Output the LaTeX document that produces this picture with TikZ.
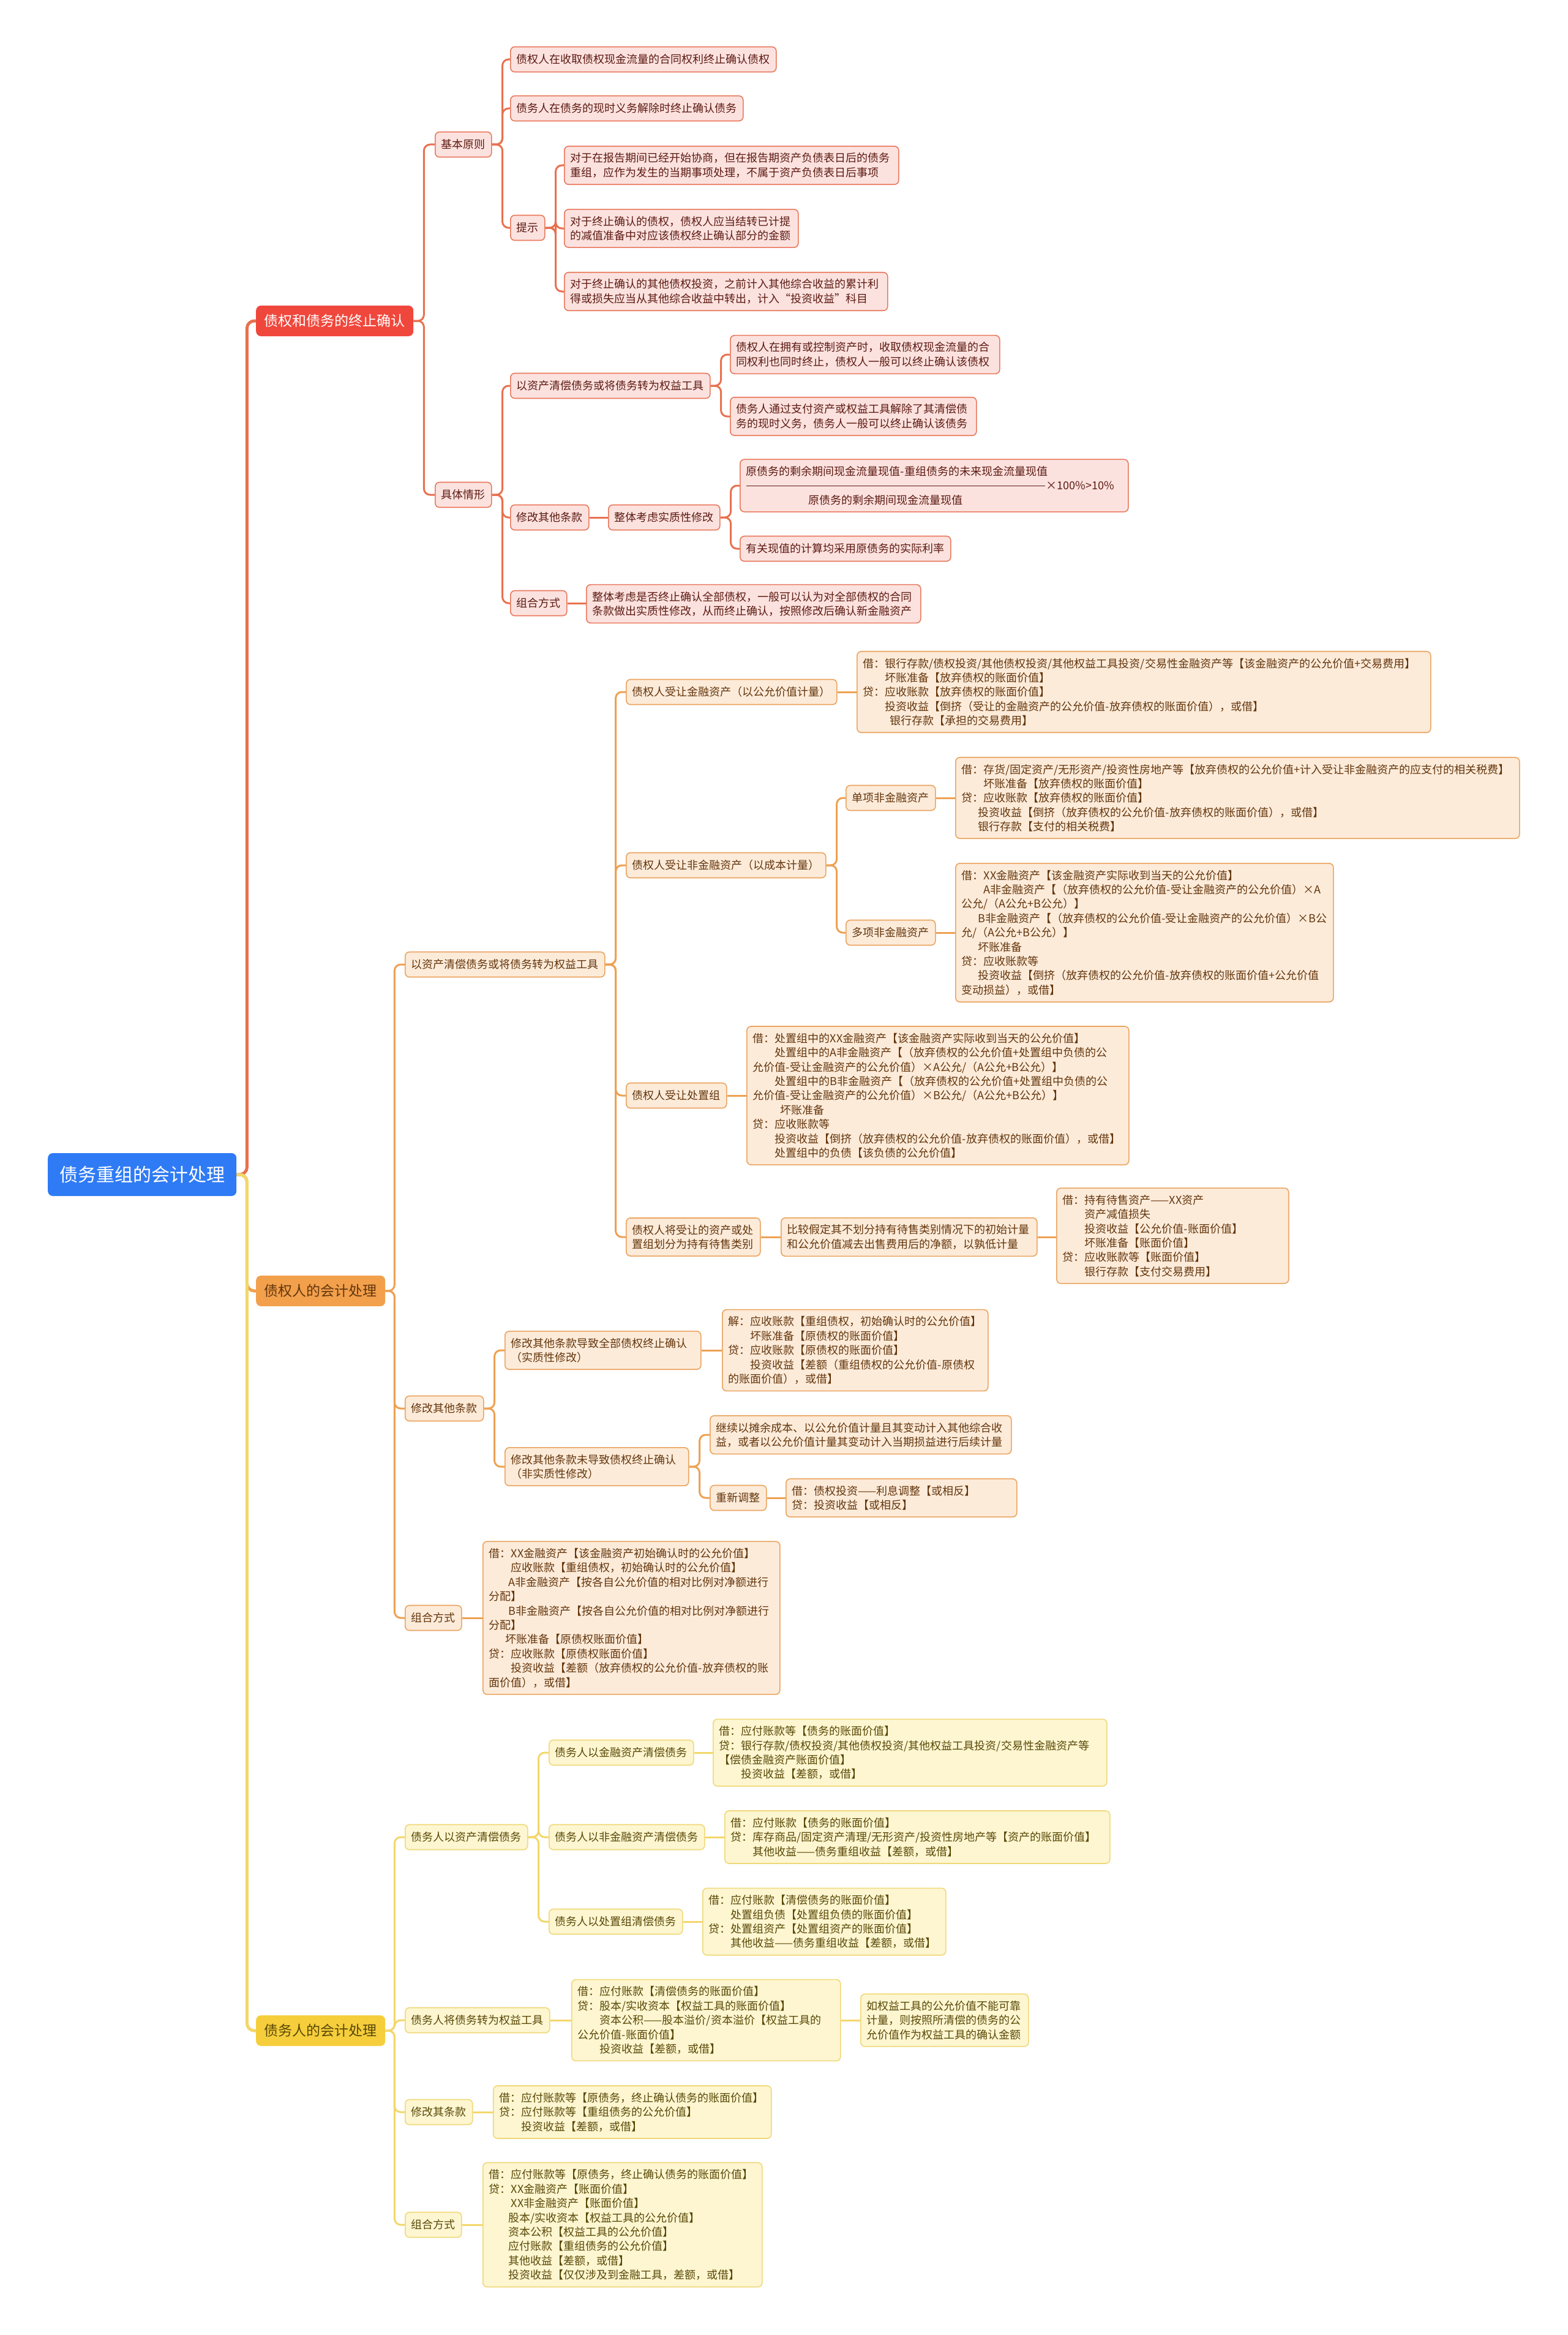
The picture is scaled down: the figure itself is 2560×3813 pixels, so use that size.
\documentclass[tikz,border=0pt]{standalone}
\usepackage{fontspec}
\setmainfont{Noto Sans CJK SC}
\usetikzlibrary{backgrounds}
\definecolor{rootfill}{HTML}{2F7BF5}
\definecolor{rmain}{HTML}{F0473C}
\definecolor{rfill}{HTML}{FCE2DF}
\definecolor{rdraw}{HTML}{E9795D}
\definecolor{rtext}{HTML}{5C1A12}
\definecolor{rline}{HTML}{E8714F}
\definecolor{omain}{HTML}{F2A04C}
\definecolor{ofill}{HTML}{FDEBDA}
\definecolor{odraw}{HTML}{EAA45E}
\definecolor{otext}{HTML}{63360C}
\definecolor{oline}{HTML}{EEA152}
\definecolor{ymain}{HTML}{F6CE3C}
\definecolor{yfill}{HTML}{FDF6D1}
\definecolor{ydraw}{HTML}{F0D878}
\definecolor{ytext}{HTML}{594806}
\definecolor{yline}{HTML}{F3D76A}
\newcommand{\IndA}{\hspace*{2em}}
\newcommand{\IndB}{\hspace*{1.5em}}
\newcommand{\IndC}{\hspace*{2.5em}}
\newcommand{\IndD}{\hspace*{1.75em}}
\tikzset{
  basebox/.style={rounded corners=7pt, line width=1.6pt, inner xsep=10pt, inner ysep=11pt,
    minimum height=41pt, anchor=west, font=\fontsize{18}{23.4}\selectfont, align=left},
  rbox/.style={basebox, fill=rfill, draw=rdraw, text=rtext},
  obox/.style={basebox, fill=ofill, draw=odraw, text=otext},
  ybox/.style={basebox, fill=yfill, draw=ydraw, text=ytext},
  topbox/.style={rounded corners=8pt, inner xsep=13.5pt, minimum height=50pt, anchor=west,
    font=\fontsize{23}{28}\selectfont},
  rootbox/.style={rounded corners=8pt, fill=rootfill, text=white, inner xsep=19pt,
    minimum height=70pt, anchor=west, font=\fontsize{30}{36}\selectfont},
  rc/.style={draw=rline, line width=3pt, rounded corners=10pt},
  oc/.style={draw=oline, line width=3pt, rounded corners=10pt},
  yc/.style={draw=yline, line width=3pt, rounded corners=10pt},
  mainc/.style={line width=5pt, rounded corners=12pt}
}
\begin{document}
\begin{tikzpicture}[x=1pt,y=-1pt]
\useasboundingbox (0,0) rectangle (2560,3813);
% ---------- root and level 1
\node[rootbox] (root) at (78,1918) {债务重组的会计处理};
\node[topbox, fill=rmain, text=white] (r1) at (418,524) {债权和债务的终止确认};
\node[topbox, fill=omain, text=otext] (o1) at (418,2108) {债权人的会计处理};
\node[topbox, fill=ymain, text=ytext] (y1) at (418,3316) {债务人的会计处理};
% ---------- red section
\node[rbox] (r2a) at (710,236) {基本原则};
\node[rbox] (r3a) at (833,97) {债权人在收取债权现金流量的合同权利终止确认债权};
\node[rbox] (r3b) at (833,177) {债务人在债务的现时义务解除时终止确认债务};
\node[rbox] (r3c) at (833,372) {提示};
\node[rbox, text width=526pt] (r4a) at (921,270) {对于在报告期间已经开始协商，但在报告期资产负债表日后的债务\\重组，应作为发生的当期事项处理，不属于资产负债表日后事项};
\node[rbox, text width=362pt] (r4b) at (921,373) {对于终止确认的债权，债权人应当结转已计提\\的减值准备中对应该债权终止确认部分的金额};
\node[rbox, text width=508pt] (r4c) at (921,476) {对于终止确认的其他债权投资，之前计入其他综合收益的累计利\\得或损失应当从其他综合收益中转出，计入“投资收益”科目};
\node[rbox] (r2b) at (710,808) {具体情形};
\node[rbox] (r3d) at (833,630) {以资产清偿债务或将债务转为权益工具};
\node[rbox, text width=420pt] (r4d) at (1192,579) {债权人在拥有或控制资产时，收取债权现金流量的合\\同权利也同时终止，债权人一般可以终止确认该债权};
\node[rbox, text width=382pt] (r4e) at (1192,680) {债务人通过支付资产或权益工具解除了其清偿债\\务的现时义务，债务人一般可以终止确认该债务};
\node[rbox] (r3e) at (833,845) {修改其他条款};
\node[rbox] (r4f) at (993,845) {整体考虑实质性修改};
\node[rbox, text width=614pt] (r5a) at (1208,793) {原债务的剩余期间现金流量现值-重组债务的未来现金流量现值\\\rule[0.3em]{488pt}{1.2pt}\hspace{2pt}×100\%>10\%\\\hspace*{102pt}原债务的剩余期间现金流量现值};
\node[rbox] (r4g) at (1208,896) {有关现值的计算均采用原债务的实际利率};
\node[rbox] (r3f) at (833,985) {组合方式};
\node[rbox, text width=526pt] (r4h) at (957,986) {整体考虑是否终止确认全部债权，一般可以认为对全部债权的合同\\条款做出实质性修改，从而终止确认，按照修改后确认新金融资产};
% ---------- orange section
\node[obox] (o2a) at (661,1575) {以资产清偿债务或将债务转为权益工具};
\node[obox] (o3a) at (1022,1130) {债权人受让金融资产（以公允价值计量）};
\node[obox, text width=917pt] (o4a) at (1399,1130) {借：银行存款/债权投资/其他债权投资/其他权益工具投资/交易性金融资产等【该金融资产的公允价值+交易费用】\\\IndA{}坏账准备【放弃债权的账面价值】\\贷：应收账款【放弃债权的账面价值】\\\IndA{}投资收益【倒挤（受让的金融资产的公允价值-放弃债权的账面价值），或借】\\\hspace*{2.4em}银行存款【承担的交易费用】};
\node[obox] (o3b) at (1022,1413) {债权人受让非金融资产（以成本计量）};
\node[obox] (o4b) at (1381,1303) {单项非金融资产};
\node[obox, text width=901pt] (o5b) at (1560,1303) {借：存货/固定资产/无形资产/投资性房地产等【放弃债权的公允价值+计入受让非金融资产的应支付的相关税费】\\\IndA{}坏账准备【放弃债权的账面价值】\\贷：应收账款【放弃债权的账面价值】\\\IndB{}投资收益【倒挤（放弃债权的公允价值-放弃债权的账面价值），或借】\\\IndB{}银行存款【支付的相关税费】};
\node[obox] (o4c) at (1381,1523) {多项非金融资产};
\node[obox, text width=597pt] (o5c) at (1560,1523) {借：XX金融资产【该金融资产实际收到当天的公允价值】\\\IndA{}A非金融资产【（放弃债权的公允价值-受让金融资产的公允价值）×A\\公允/（A公允+B公允）】\\\IndB{}B非金融资产【（放弃债权的公允价值-受让金融资产的公允价值）×B公\\允/（A公允+B公允）】\\\IndB{}坏账准备\\贷：应收账款等\\\IndB{}投资收益【倒挤（放弃债权的公允价值-放弃债权的账面价值+公允价值\\变动损益），或借】};
\node[obox] (o3c) at (1022,1789) {债权人受让处置组};
\node[obox, text width=604pt] (o4d) at (1219,1789) {借：处置组中的XX金融资产【该金融资产实际收到当天的公允价值】\\\IndA{}处置组中的A非金融资产【（放弃债权的公允价值+处置组中负债的公\\允价值-受让金融资产的公允价值）×A公允/（A公允+B公允）】\\\IndA{}处置组中的B非金融资产【（放弃债权的公允价值+处置组中负债的公\\允价值-受让金融资产的公允价值）×B公允/（A公允+B公允）】\\\IndC{}坏账准备\\贷：应收账款等\\\IndA{}投资收益【倒挤（放弃债权的公允价值-放弃债权的账面价值），或借】\\\IndA{}处置组中的负债【该负债的公允价值】};
\node[obox, text width=199pt] (o3d) at (1022,2020) {债权人将受让的资产或处\\置组划分为持有待售类别};
\node[obox, text width=398pt] (o4e) at (1275,2020) {比较假定其不划分持有待售类别情况下的初始计量\\和公允价值减去出售费用后的净额，以孰低计量};
\node[obox, text width=359pt] (o5e) at (1725,2018) {借：持有待售资产——XX资产\\\IndA{}资产减值损失\\\IndA{}投资收益【公允价值-账面价值】\\\IndA{}坏账准备【账面价值】\\贷：应收账款等【账面价值】\\\IndA{}银行存款【支付交易费用】};
\node[obox] (o2b) at (661,2300) {修改其他条款};
\node[obox, text width=300pt] (o3e) at (824,2205) {修改其他条款导致全部债权终止确认\\（实质性修改）};
\node[obox, text width=414pt] (o4f) at (1179,2205) {解：应收账款【重组债权，初始确认时的公允价值】\\\IndA{}坏账准备【原债权的账面价值】\\贷：应收账款【原债权的账面价值】\\\IndA{}投资收益【差额（重组债权的公允价值-原债权\\的账面价值），或借】};
\node[obox, text width=280pt] (o3f) at (824,2395) {修改其他条款未导致债权终止确认\\（非实质性修改）};
\node[obox, text width=472pt] (o4g) at (1159,2343) {继续以摊余成本、以公允价值计量且其变动计入其他综合收\\益，或者以公允价值计量其变动计入当期损益进行后续计量};
\node[obox] (o4h) at (1159,2446) {重新调整};
\node[obox, text width=357pt] (o5h) at (1283,2446) {借：债权投资——利息调整【或相反】\\贷：投资收益【或相反】};
\node[obox] (o2c) at (661,2642) {组合方式};
\node[obox, text width=465pt] (o3g) at (788,2642) {借：XX金融资产【该金融资产初始确认时的公允价值】\\\IndA{}应收账款【重组债权，初始确认时的公允价值】\\\IndD{}A非金融资产【按各自公允价值的相对比例对净额进行\\分配】\\\IndD{}B非金融资产【按各自公允价值的相对比例对净额进行\\分配】\\\IndB{}坏账准备【原债权账面价值】\\贷：应收账款【原债权账面价值】\\\IndA{}投资收益【差额（放弃债权的公允价值-放弃债权的账\\面价值），或借】};
% ---------- yellow section
\node[ybox] (y2a) at (661,3000) {债务人以资产清偿债务};
\node[ybox] (y3a) at (896,2862) {债务人以金融资产清偿债务};
\node[ybox, text width=623pt] (y4a) at (1164,2862) {借：应付账款等【债务的账面价值】\\贷：银行存款/债权投资/其他债权投资/其他权益工具投资/交易性金融资产等\\【偿债金融资产账面价值】\\\IndA{}投资收益【差额，或借】};
\node[ybox] (y3b) at (896,3000) {债务人以非金融资产清偿债务};
\node[ybox, text width=609pt] (y4b) at (1183,3000) {借：应付账款【债务的账面价值】\\贷：库存商品/固定资产清理/无形资产/投资性房地产等【资产的账面价值】\\\IndA{}其他收益——债务重组收益【差额，或借】};
\node[ybox] (y3c) at (896,3138) {债务人以处置组清偿债务};
\node[ybox, text width=377pt] (y4c) at (1147,3138) {借：应付账款【清偿债务的账面价值】\\\IndA{}处置组负债【处置组负债的账面价值】\\贷：处置组资产【处置组资产的账面价值】\\\IndA{}其他收益——债务重组收益【差额，或借】};
\node[ybox] (y2b) at (661,3299) {债务人将债务转为权益工具};
\node[ybox, text width=419pt] (y3d) at (933,3299) {借：应付账款【清偿债务的账面价值】\\贷：股本/实收资本【权益工具的账面价值】\\\IndA{}资本公积——股本溢价/资本溢价【权益工具的\\公允价值-账面价值】\\\IndA{}投资收益【差额，或借】};
\node[ybox, text width=254pt] (y4d) at (1405,3299) {如权益工具的公允价值不能可靠\\计量，则按照所清偿的债务的公\\允价值作为权益工具的确认金额};
\node[ybox] (y2c) at (661,3449) {修改其条款};
\node[ybox, text width=434pt] (y3e) at (805,3449) {借：应付账款等【原债务，终止确认债务的账面价值】\\贷：应付账款等【重组债务的公允价值】\\\IndA{}投资收益【差额，或借】};
\node[ybox] (y2d) at (661,3633) {组合方式};
\node[ybox, text width=436pt] (y3f) at (788,3633) {借：应付账款等【原债务，终止确认债务的账面价值】\\贷：XX金融资产【账面价值】\\\IndA{}XX非金融资产【账面价值】\\\IndD{}股本/实收资本【权益工具的公允价值】\\\IndD{}资本公积【权益工具的公允价值】\\\IndD{}应付账款【重组债务的公允价值】\\\IndD{}其他收益【差额，或借】\\\IndD{}投资收益【仅仅涉及到金融工具，差额，或借】};
% ---------- connectors
\begin{scope}[on background layer]
\fill[white] (0,0) rectangle (2560,3813);
\draw[mainc, draw=rline] (root.east) -- ++(17,0) |- (r1.west);
\draw[mainc, draw=oline] (root.east) -- ++(17,0) |- (o1.west);
\draw[mainc, draw=yline] (root.east) -- ++(17,0) |- (y1.west);
% red
\foreach \c in {r2a,r2b} \draw[rc] (r1.east) -- ++(17,0) |- (\c.west);
\foreach \c in {r3a,r3b,r3c} \draw[rc] (r2a.east) -- ++(17,0) |- (\c.west);
\foreach \c in {r4a,r4b,r4c} \draw[rc] (r3c.east) -- ++(17,0) |- (\c.west);
\foreach \c in {r3d,r3e,r3f} \draw[rc] (r2b.east) -- ++(17,0) |- (\c.west);
\foreach \c in {r4d,r4e} \draw[rc] (r3d.east) -- ++(17,0) |- (\c.west);
\draw[rc] (r3e.east) -- (r3e.east -| r4f.west);
\foreach \c in {r5a,r4g} \draw[rc] (r4f.east) -- ++(17,0) |- (\c.west);
\draw[rc] (r3f.east) -- (r3f.east -| r4h.west);
% orange
\foreach \c in {o2a,o2b,o2c} \draw[oc] (o1.east) -- ++(15,0) |- (\c.west);
\foreach \c in {o3a,o3b,o3c,o3d} \draw[oc] (o2a.east) -- ++(17,0) |- (\c.west);
\draw[oc] (o3a.east) -- (o3a.east -| o4a.west);
\foreach \c in {o4b,o4c} \draw[oc] (o3b.east) -- ++(17,0) |- (\c.west);
\draw[oc] (o4b.east) -- (o4b.east -| o5b.west);
\draw[oc] (o4c.east) -- (o4c.east -| o5c.west);
\draw[oc] (o3c.east) -- (o3c.east -| o4d.west);
\draw[oc] (o3d.east) -- (o3d.east -| o4e.west);
\draw[oc] (o4e.east) -- (o4e.east -| o5e.west);
\foreach \c in {o3e,o3f} \draw[oc] (o2b.east) -- ++(17,0) |- (\c.west);
\draw[oc] (o3e.east) -- (o3e.east -| o4f.west);
\foreach \c in {o4g,o4h} \draw[oc] (o3f.east) -- ++(17,0) |- (\c.west);
\draw[oc] (o4h.east) -- (o4h.east -| o5h.west);
\draw[oc] (o2c.east) -- (o2c.east -| o3g.west);
% yellow
\foreach \c in {y2a,y2b,y2c,y2d} \draw[yc] (y1.east) -- ++(15,0) |- (\c.west);
\foreach \c in {y3a,y3b,y3c} \draw[yc] (y2a.east) -- ++(17,0) |- (\c.west);
\draw[yc] (y3a.east) -- (y3a.east -| y4a.west);
\draw[yc] (y3b.east) -- (y3b.east -| y4b.west);
\draw[yc] (y3c.east) -- (y3c.east -| y4c.west);
\draw[yc] (y2b.east) -- (y2b.east -| y3d.west);
\draw[yc] (y3d.east) -- (y3d.east -| y4d.west);
\draw[yc] (y2c.east) -- (y2c.east -| y3e.west);
\draw[yc] (y2d.east) -- (y2d.east -| y3f.west);
\end{scope}
\end{tikzpicture}
\end{document}
